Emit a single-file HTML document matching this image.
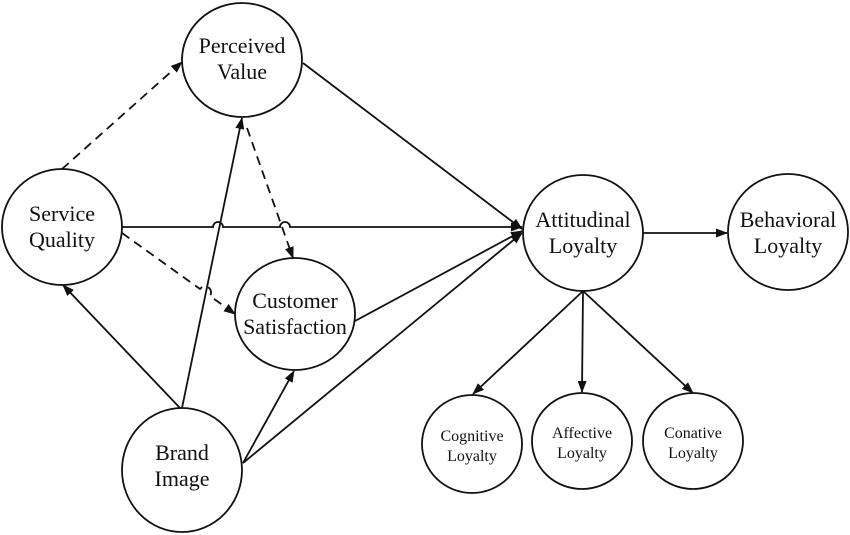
<!DOCTYPE html>
<html><head><meta charset="utf-8"><style>body{margin:0;background:#fff}svg{display:block}</style></head><body>
<svg width="850" height="535" viewBox="0 0 850 535" xmlns="http://www.w3.org/2000/svg">
<defs><marker id="a" markerWidth="12" markerHeight="9" refX="11" refY="4.5" orient="auto" markerUnits="userSpaceOnUse"><path d="M0,0 L12,4.5 L0,9 z" fill="#111"/></marker></defs>
<g fill="none" stroke="#111" stroke-width="1.8">
<ellipse cx="242" cy="60" rx="60" ry="57"/>
<ellipse cx="62" cy="227" rx="60" ry="58"/>
<ellipse cx="295" cy="314" rx="60" ry="56"/>
<ellipse cx="182" cy="470" rx="60" ry="62"/>
<ellipse cx="583" cy="233" rx="60" ry="58"/>
<ellipse cx="788" cy="232" rx="60" ry="58"/>
<ellipse cx="472" cy="444" rx="50" ry="49"/>
<ellipse cx="582" cy="441" rx="50" ry="48"/>
<ellipse cx="693" cy="441" rx="50" ry="48"/>
<path d="M122,227 L213,227 A5,5 0 0 1 223,227 L280,227 A5,5 0 0 1 290,227 L522,227" marker-end="url(#a)"/>
<line x1="303" y1="63" x2="522" y2="229" marker-end="url(#a)"/>
<line x1="355" y1="321" x2="522" y2="231" marker-end="url(#a)"/>
<line x1="243" y1="463" x2="522" y2="233" marker-end="url(#a)"/>
<line x1="643" y1="233" x2="727" y2="233" marker-end="url(#a)"/>
<line x1="583" y1="291" x2="582" y2="392" marker-end="url(#a)"/>
<line x1="583" y1="291" x2="473" y2="394" marker-end="url(#a)"/>
<line x1="583" y1="291" x2="693" y2="393" marker-end="url(#a)"/>
<line x1="180" y1="408" x2="63" y2="285" marker-end="url(#a)"/>
<line x1="182" y1="408" x2="242" y2="118" marker-end="url(#a)"/>
<line x1="243" y1="463" x2="294" y2="371" marker-end="url(#a)"/>
</g>
<g fill="none" stroke="#111" stroke-width="1.8" stroke-dasharray="9,6">
<line x1="62" y1="169" x2="182" y2="62" marker-end="url(#a)"/>
<line x1="247" y1="128" x2="293" y2="258" marker-end="url(#a)"/>
<path d="M122,233 L200,289 A5,5 0 0 1 210,296 L235,314" marker-end="url(#a)"/>
</g>
<g font-family="Liberation Serif, serif" font-size="22" fill="#111" text-anchor="middle">
<text x="242" y="53">Perceived</text><text x="242" y="79">Value</text>
<text x="62" y="221">Service</text><text x="62" y="247">Quality</text>
<text x="295" y="308">Customer</text><text x="295" y="334">Satisfaction</text>
<text x="182" y="460">Brand</text><text x="182" y="486">Image</text>
<text x="583" y="227">Attitudinal</text><text x="583" y="253">Loyalty</text>
<text x="788" y="227">Behavioral</text><text x="788" y="253">Loyalty</text>
</g>
<g font-family="Liberation Serif, serif" font-size="16" fill="#111" text-anchor="middle">
<text x="472" y="441">Cognitive</text><text x="472" y="461">Loyalty</text>
<text x="582" y="438">Affective</text><text x="582" y="458">Loyalty</text>
<text x="693" y="438">Conative</text><text x="693" y="458">Loyalty</text>
</g>
</svg>
</body></html>
